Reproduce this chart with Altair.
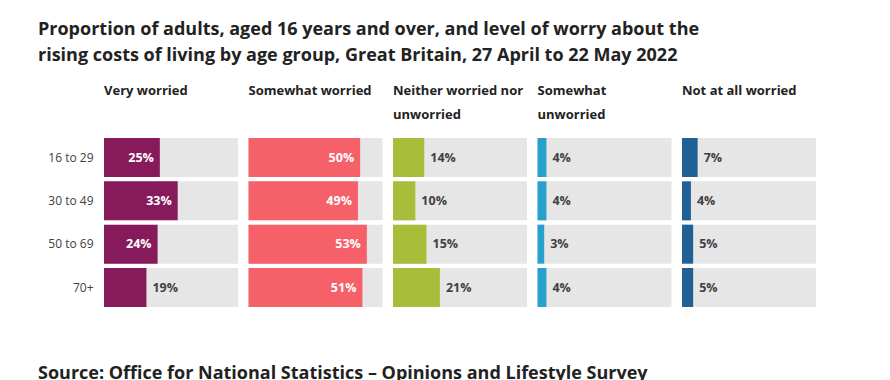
import altair as alt
import pandas as pd

# ---- data ----
ages = ["16 to 29", "30 to 49", "50 to 69", "70+"]
header_lines = [
    ["Very worried", " "],
    ["Somewhat worried", " "],
    ["Neither worried nor", "unworried"],
    ["Somewhat", "unworried"],
    ["Not at all worried", " "],
]
very_worried = [25, 33, 24, 19]
somewhat_worried = [50, 49, 53, 51]
neither = [14, 10, 15, 21]
somewhat_unworried = [4, 4, 3, 4]
not_at_all = [7, 4, 5, 5]
series = [very_worried, somewhat_worried, neither, somewhat_unworried, not_at_all]
colors = ["#871A5B", "#F66068", "#A8BD3A", "#27A0CC", "#206095"]

title_lines = [
    "Proportion of adults, aged 16 years and over, and level of worry about the",
    "rising costs of living by age group, Great Britain, 27 April to 22 May 2022",
]
source_text = "Source: Office for National Statistics \u2013 Opinions and Lifestyle Survey"

X_MAX = 60
INSIDE_MIN = 22
FONT = "Open Sans"


def panel(i):
    df = pd.DataFrame({"age": ages, "value": series[i]})
    df["full"] = X_MAX
    df["label"] = df["value"].astype(str) + "%"
    base = alt.Chart(df)
    if i == 0:
        y_axis = alt.Axis(ticks=False, domain=False, labelFontSize=12, labelColor="#414042",
                          labelPadding=11, minExtent=66, labelFont=FONT)
    else:
        y_axis = None
    y = alt.Y("age:N", sort=ages, title=None, axis=y_axis,
              scale=alt.Scale(paddingInner=0.1, paddingOuter=0))
    xs = alt.Scale(domain=[0, X_MAX], nice=False)
    bg = base.mark_bar(color="#E6E6E6").encode(
        x=alt.X("full:Q", scale=xs, axis=None), y=y)
    bar = base.mark_bar(color=colors[i]).encode(
        x=alt.X("value:Q", scale=xs, axis=None), y=y)
    inside = base.transform_filter(alt.datum.value >= INSIDE_MIN).mark_text(
        align="right", dx=-6, color="white", fontSize=12.5, fontWeight="bold", font=FONT
    ).encode(x=alt.X("value:Q", scale=xs, axis=None), y=y, text="label:N")
    outside = base.transform_filter(alt.datum.value < INSIDE_MIN).mark_text(
        align="left", dx=6, color="#414042", fontSize=12.5, fontWeight="bold", font=FONT
    ).encode(x=alt.X("value:Q", scale=xs, axis=None), y=y, text="label:N")
    return alt.layer(bg, bar, inside, outside).properties(
        width=134, height=169,
        title=alt.TitleParams(header_lines[i], anchor="start", frame="group", fontSize=13,
                              fontWeight="bold", color="#222222", font=FONT, lineHeight=24,
                              offset=16),
    )


panels = alt.hconcat(*[panel(i) for i in range(5)], spacing=10.5).properties(
    title=alt.TitleParams(title_lines, anchor="start", fontSize=18, fontWeight="bold",
                          color="#222222", font=FONT, lineHeight=26, offset=20),
)

chart = alt.vconcat(panels).properties(
    title=alt.TitleParams(source_text, orient="bottom", anchor="start", fontSize=18,
                          fontWeight="bold", color="#222222", font=FONT, offset=58),
    padding={"left": 30, "top": 13, "right": 10, "bottom": 10},
).configure(font=FONT, view=alt.ViewConfig(stroke=None))

chart.save("out.html", embed_options={"renderer": "svg", "actions": False})
